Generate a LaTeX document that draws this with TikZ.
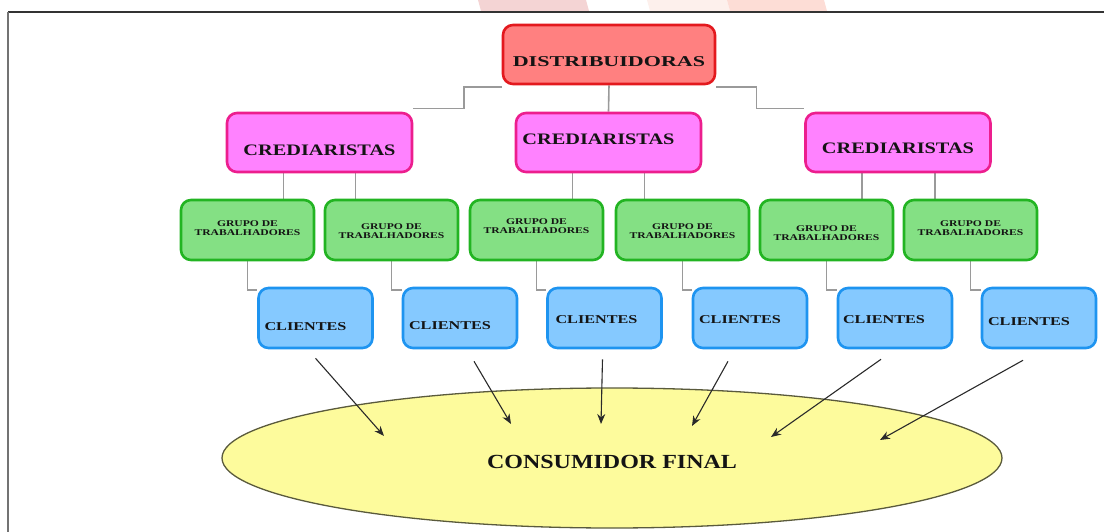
\documentclass[tikz,border=0pt]{standalone}
\usepackage{fontspec}
\usepackage{graphicx}
\setmainfont{Liberation Serif}
\usetikzlibrary{shapes.geometric,arrows.meta,calc,backgrounds}
\definecolor{distF}{HTML}{FF8080}
\definecolor{distB}{HTML}{E3191E}
\definecolor{credF}{HTML}{FF82FF}
\definecolor{credB}{HTML}{EC1E8E}
\definecolor{grpF}{HTML}{84E084}
\definecolor{grpB}{HTML}{22B422}
\definecolor{cliF}{HTML}{85C9FF}
\definecolor{cliB}{HTML}{1E94F0}
\definecolor{consF}{HTML}{FDFB9C}
\definecolor{consB}{HTML}{5A5A3C}
\definecolor{connC}{HTML}{9A9A9A}
\definecolor{arrC}{HTML}{2A2A2A}
\definecolor{txtC}{HTML}{141414}
\definecolor{wmA}{HTML}{F4D4D4}
\definecolor{wmB}{HTML}{FDF0EC}
\definecolor{wmC}{HTML}{FDDDD6}
\newcommand\sx[2]{\scalebox{#1}[1]{#2}}
\begin{document}
\begin{tikzpicture}[x=1pt,y=-1pt,
  box/.style={draw, rounded corners=10pt, line width=2.6pt, inner sep=0pt},
  distbox/.style={box, draw=distB, fill=distF, minimum width=212pt, minimum height=59pt},
  credbox/.style={box, draw=credB, fill=credF, minimum width=185pt, minimum height=59pt},
  grpbox/.style={box, draw=grpB, fill=grpF, minimum width=133pt, minimum height=60pt},
  clibox/.style={box, draw=cliB, fill=cliF, minimum width=114pt, minimum height=60pt},
  bigtxt/.style={text=txtC, inner sep=0pt, font=\bfseries\fontsize{15}{15}\selectfont},
  credtxt/.style={text=txtC, inner sep=0pt, font=\bfseries\fontsize{16}{16}\selectfont},
  grptxt/.style={text=txtC, inner sep=0pt, align=center, font=\bfseries\fontsize{8.8}{9.5}\selectfont},
  clitxt/.style={text=txtC, inner sep=0pt, font=\bfseries\fontsize{12}{12}\selectfont},
  constxt/.style={text=txtC, inner sep=0pt, font=\bfseries\fontsize{20}{20}\selectfont},
  conn/.style={draw=connC, line width=1.6pt},
  arr/.style={draw=arrC, line width=1.1pt, -{Stealth[length=10pt,width=8pt]}}
]
\useasboundingbox (0,0) rectangle (1104,532);
% faint watermark stripes
\fill[wmA] (478,0) -- (586,0) -- (589,11) -- (481,11) -- cycle;
\fill[wmB] (647,0) -- (727,0) -- (730,11) -- (650,11) -- cycle;
\fill[wmC] (727,0) -- (824,0) -- (827,11) -- (730,11) -- cycle;
% frame
\draw[draw=black!80, line width=1.5pt] (8,12) -- (1104,12);
\draw[draw=black!55, line width=2pt] (8,12) -- (8,532);

% boxes
\node[distbox] (dist) at (609,54.5) {};
\node[bigtxt] (distT) at ([yshift=-7pt]dist.center) {\sx{1.47}{DISTRIBUIDORAS}};

\node[credbox] (cred1) at (319.5,142.5) {};
\node[credbox] (cred2) at (608.5,142.5) {};
\node[credbox] (cred3) at (898,142.5) {};
\node[credtxt] (cred1T) at ([yshift=-7.5pt]cred1.center) {\sx{1.27}{CREDIARISTAS}};
\node[credtxt] (cred2T) at ([xshift=-10pt,yshift=3.5pt]cred2.center) {\sx{1.27}{CREDIARISTAS}};
\node[credtxt] (cred3T) at ([yshift=-6pt]cred3.center) {\sx{1.27}{CREDIARISTAS}};

\node[grpbox] (g1) at (247.5,230) {};
\node[grpbox] (g2) at (391.5,230) {};
\node[grpbox] (g3) at (536.5,230) {};
\node[grpbox] (g4) at (682.5,230) {};
\node[grpbox] (g5) at (826.5,230) {};
\node[grpbox] (g6) at (970.5,230) {};
\node[grptxt] (g1T) at ([yshift=2pt]g1.center) {\sx{1.32}{GRUPO DE}\\\sx{1.32}{TRABALHADORES}};
\node[grptxt] (g2T) at ([yshift=-1pt]g2.center) {\sx{1.32}{GRUPO DE}\\\sx{1.32}{TRABALHADORES}};
\node[grptxt] (g3T) at ([yshift=4pt]g3.center) {\sx{1.32}{GRUPO DE}\\\sx{1.32}{TRABALHADORES}};
\node[grptxt] (g4T) at ([yshift=-1pt]g4.center) {\sx{1.32}{GRUPO DE}\\\sx{1.32}{TRABALHADORES}};
\node[grptxt] (g5T) at ([yshift=-3pt]g5.center) {\sx{1.32}{GRUPO DE}\\\sx{1.32}{TRABALHADORES}};
\node[grptxt] (g6T) at ([yshift=2pt]g6.center) {\sx{1.32}{GRUPO DE}\\\sx{1.32}{TRABALHADORES}};

\node[clibox] (c1) at (315.5,318) {};
\node[clibox] (c2) at (460,318) {};
\node[clibox] (c3) at (604.5,318) {};
\node[clibox] (c4) at (750,318) {};
\node[clibox] (c5) at (895,318) {};
\node[clibox] (c6) at (1039,318) {};
\node[clitxt] (c1T) at ([xshift=-10pt,yshift=-9pt]c1.center) {\sx{1.35}{CLIENTES}};
\node[clitxt] (c2T) at ([xshift=-10pt,yshift=-8pt]c2.center) {\sx{1.35}{CLIENTES}};
\node[clitxt] (c3T) at ([xshift=-8pt,yshift=-2pt]c3.center) {\sx{1.35}{CLIENTES}};
\node[clitxt] (c4T) at ([xshift=-10pt,yshift=-2pt]c4.center) {\sx{1.35}{CLIENTES}};
\node[clitxt] (c5T) at ([xshift=-11pt,yshift=-2pt]c5.center) {\sx{1.35}{CLIENTES}};
\node[clitxt] (c6T) at ([xshift=-10pt,yshift=-4pt]c6.center) {\sx{1.35}{CLIENTES}};

\node[ellipse, draw=consB, fill=consF, line width=1.3pt, minimum width=780pt, minimum height=140pt, inner sep=0pt] (cons) at (612,458) {};
\node[constxt] (consT) at ([yshift=-4pt]cons.center) {\sx{1.2}{CONSUMIDOR FINAL}};

% connectors
\begin{scope}[on background layer]
\draw[conn] ([yshift=-2pt]dist.south west) -- ++(-38,0) |- ([yshift=3pt]cred1.north east);
\draw[conn] (dist.south) -- (cred2.north);
\draw[conn] ([yshift=-2pt]dist.south east) -- ++(40,0) |- ([yshift=3pt]cred3.north west);

\draw[conn] ([xshift=-36pt]cred1.south) -- ([xshift=-36pt]cred1.south |- g1.north);
\draw[conn] ([xshift=36pt]cred1.south) -- ([xshift=36pt]cred1.south |- g2.north);
\draw[conn] ([xshift=-36pt]cred2.south) -- ([xshift=-36pt]cred2.south |- g3.north);
\draw[conn] ([xshift=36pt]cred2.south) -- ([xshift=36pt]cred2.south |- g4.north);
\draw[conn] ([xshift=-36pt]cred3.south) -- ([xshift=-36pt]cred3.south |- g5.north);
\draw[conn] ([xshift=37pt]cred3.south) -- ([xshift=37pt]cred3.south |- g6.north);

\draw[conn] (g1.south) |- ([yshift=-3pt]c1.north west);
\draw[conn] (g2.south) |- ([yshift=-3pt]c2.north west);
\draw[conn] (g3.south) |- ([yshift=-3pt]c3.north west);
\draw[conn] (g4.south) |- ([yshift=-3pt]c4.north west);
\draw[conn] (g5.south) |- ([yshift=-3pt]c5.north west);
\draw[conn] (g6.south) |- ([yshift=-3pt]c6.north west);
\end{scope}

% arrows
\draw[arr] ([shift={(0,9)}]c1.south) -- ([shift={(-228,-22)}]cons.center);
\draw[arr] ([shift={(14,12)}]c2.south) -- ([shift={(-101,-34)}]cons.center);
\draw[arr] ([shift={(-2,10)}]c3.south) -- ([shift={(-11,-34)}]cons.center);
\draw[arr] ([shift={(-22,12)}]c4.south) -- ([shift={(80,-32)}]cons.center);
\draw[arr] ([shift={(-14,10)}]c5.south) -- ([shift={(159,-21)}]cons.center);
\draw[arr] ([shift={(-16,11)}]c6.south) -- ([shift={(268,-18)}]cons.center);
\end{tikzpicture}
\end{document}
